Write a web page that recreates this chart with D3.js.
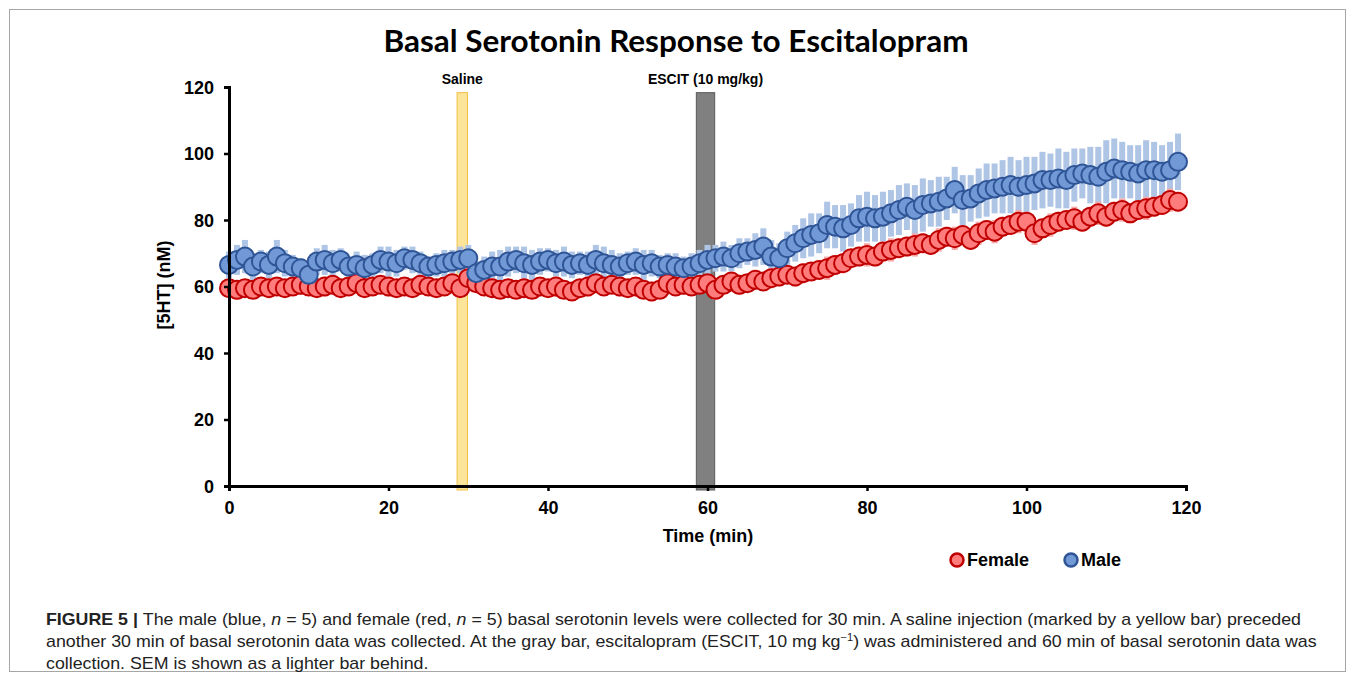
<!DOCTYPE html>
<html>
<head>
    <meta charset="utf-8">
    <title>Basal Serotonin Response to Escitalopram</title>
    <script src="https://d3js.org/d3.v7.min.js"></script>
    <style>
        body { margin: 0; background: #fff; }
        svg { display: block; }
        .tick text { font-family: "Liberation Sans", Arial, sans-serif; font-weight: bold; font-size: 18px; fill: #000; }
        .caption { font-family: "Liberation Sans Narrow", "Liberation Sans", Arial, sans-serif; font-size: 16px; fill: #222; }
    </style>
</head>
<body>
    <svg></svg>
    <script>
        // Time points (min), one sample per minute
        const minutes = d3.range(0, 120);

        // Mean [5HT] (nM)
        const female = [
            59.5, 59, 59.5, 59, 60, 59.5, 60, 59.5, 60, 60.5,
            60, 59.5, 60, 60.5, 59.5, 60, 61, 59.5, 60, 60.5,
            60, 59.5, 60, 59.5, 60.5, 60, 59.5, 60, 61, 59.5,
            62.5, 61, 60, 59.5, 59, 59.5, 59, 59.5, 59, 60,
            59.5, 60, 59, 58.5, 59.5, 60, 61, 60, 60.5, 60,
            59.5, 60, 59, 58.5, 59, 61, 60, 60.5, 60, 60.5,
            61, 59, 60.5, 61.5, 60.5, 61, 62, 61.5, 62.5, 63,
            63.5, 63, 64, 64.5, 65, 65.5, 66.5, 67, 68.5, 69,
            69.5, 69, 70.5, 71, 71.5, 72, 72.5, 73, 72.5, 74,
            75, 74.5, 75.5, 74, 76, 77, 76.5, 78, 78.5, 79.5,
            79.5, 76, 77.5, 78.5, 79.5, 80, 80.5, 79.5, 81, 82,
            81, 82.5, 83, 82, 83, 83.5, 84, 84.5, 86, 85.5
        ];
        const male = [
            66.5, 68, 69, 66, 67.5, 66.5, 69, 67, 66, 65.5,
            63.5, 67.5, 68, 67, 68, 66, 66.5, 65.5, 66.5, 68,
            67.5, 67, 68.5, 68, 67, 66, 66.5, 67, 67.5, 68,
            68.5, 64, 65, 66, 66, 67.5, 68, 67, 66.5, 67.5,
            68, 67, 67.5, 66.5, 67, 66.5, 68, 67, 66.5, 66,
            67, 67.5, 66.5, 67, 66, 66.5, 66, 65.5, 66, 67,
            68, 68.5, 69, 68.5, 70, 70.5, 71, 72, 69, 68.5,
            71.5, 73, 74.5, 75.5, 76, 78.5, 78, 77.5, 78.5, 80.5,
            81, 80.5, 81, 82, 83, 84, 83, 84.5, 85, 85.5,
            86.5, 89, 86, 86.5, 88, 89, 89.5, 90, 90.5, 90,
            90.5, 91, 92, 92, 92.5, 92, 93.5, 94, 93.5, 93,
            94.5, 95.5, 95, 94.5, 94, 95, 95, 94.5, 95, 97.5
        ];

        // SEM (nM)
        const femaleSem = [
            2.5, 3, 2.5, 2, 2.5, 3, 2.5, 2, 2.5, 3,
            2.5, 2, 3, 2.5, 2, 2.5, 3, 2.5, 2, 2.5,
            3, 2.5, 2, 2.5, 3, 2.5, 2, 2.5, 3, 2.5,
            3, 2.5, 2.5, 3, 2.5, 2, 2.5, 3, 2.5, 2,
            2.5, 3, 2.5, 2, 2.5, 3, 2.5, 2, 2.5, 3,
            2.5, 2, 2.5, 3, 2.5, 2, 2.5, 3, 2.5, 2,
            2.5, 3, 2.5, 2.5, 3, 2.5, 3, 2.5, 3, 3,
            2.5, 3, 3, 2.5, 3, 3.5, 3, 3, 2.5, 3,
            3.5, 3, 3, 3.5, 3, 3, 3.5, 3, 3, 3.5,
            3, 3.5, 3, 3, 3.5, 3, 3.5, 3, 3, 3.5,
            3, 3.5, 3, 3.5, 3, 3, 3.5, 3, 3, 3.5,
            3, 3, 3.5, 3, 3, 3.5, 3, 3, 3.5, 3
        ];
        const maleSem = [
            4, 4.5, 5, 4, 3.5, 4, 5, 4, 3.5, 3,
            3.5, 4, 4.5, 4, 3.5, 3, 4, 4, 3.5, 4,
            4.5, 4, 3.5, 4, 3.5, 3, 3.5, 4, 3.5, 4,
            4, 3.5, 4, 4.5, 5, 4.5, 4, 5, 4.5, 4,
            3.5, 4, 4.5, 4, 3.5, 4, 4.5, 5, 4.5, 4,
            3.5, 4, 4.5, 4, 3.5, 3.5, 4, 3.5, 4, 4,
            4.5, 4, 4.5, 4, 4.5, 4, 5, 5.5, 5, 4.5,
            5, 5.5, 6, 6.5, 6, 7, 6.5, 7, 6.5, 7,
            7.5, 7, 7.5, 7, 7.5, 7, 7.5, 8, 7, 7.5,
            6.5, 7, 7.5, 7, 7.5, 8, 7.5, 8, 8.5, 8,
            8.5, 8, 8.5, 8, 9, 8.5, 8, 7.5, 8.5, 9,
            9.5, 9, 8.5, 8, 8.5, 9, 8.5, 8, 8.5, 8.5
        ];

        // Injection markers (min)
        const injections = [
            { label: "Saline", start: 28.6, end: 29.9, fill: "#FDE49B", stroke: "#F2C043" },
            { label: "ESCIT (10 mg/kg)", start: 58.6, end: 60.9, fill: "#808080", stroke: "#595959" }
        ];

        const xTicks = [0, 20, 40, 60, 80, 100, 120];
        const yTicks = [0, 20, 40, 60, 80, 100, 120];

        const seriesList = [
            { name: "Female", values: female, sem: femaleSem, fill: "#FF7C7C", stroke: "#C00000", semColor: "#F7A8A8" },
            { name: "Male", values: male, sem: maleSem, fill: "#7199D6", stroke: "#2F5597", semColor: "#AFC5E6" }
        ];

        const width = 1355, height = 681;

        const svg = d3.select("svg")
            .attr("width", width)
            .attr("height", height);

        // frame
        svg.append("rect")
            .attr("x", 9.5).attr("y", 9.5)
            .attr("width", 1336).attr("height", 662)
            .attr("fill", "none")
            .attr("stroke", "#a6a6a6")
            .attr("stroke-width", 1);

        const x = d3.scaleLinear().domain([0, 120]).range([229, 1186]);
        const y = d3.scaleLinear().domain([0, 120]).range([486, 87]);

        // title
        svg.append("text")
            .attr("x", 676).attr("y", 52)
            .attr("text-anchor", "middle")
            .attr("textLength", 585)
            .attr("lengthAdjust", "spacingAndGlyphs")
            .style("font-family", "Lato, 'Open Sans', sans-serif")
            .style("font-weight", "bold")
            .style("font-size", "31px")
            .text("Basal Serotonin Response to Escitalopram");

        // injection bars
        const inj = svg.append("g");
        inj.selectAll("rect")
            .data(injections)
            .join("rect")
            .attr("x", d => x(d.start))
            .attr("width", d => x(d.end) - x(d.start))
            .attr("y", y(118.3))
            .attr("height", y(-1.2) - y(118.3))
            .attr("fill", d => d.fill)
            .attr("stroke", d => d.stroke)
            .attr("stroke-width", 1);
        inj.selectAll("text")
            .data(injections)
            .join("text")
            .attr("x", d => x((d.start + d.end) / 2))
            .attr("y", 84)
            .attr("text-anchor", "middle")
            .style("font-family", "'Liberation Sans Narrow', 'Liberation Sans', Arial, sans-serif")
            .style("font-weight", "bold")
            .style("font-size", "14px")
            .text(d => d.label);

        // SEM bars
        const semW = 6;
        seriesList.slice().reverse().forEach(s => {
            svg.append("g")
                .selectAll("rect")
                .data(minutes)
                .join("rect")
                .attr("x", m => x(m) - semW / 2)
                .attr("width", semW)
                .attr("y", m => y(s.values[m] + s.sem[m]))
                .attr("height", m => y(s.values[m] - s.sem[m]) - y(s.values[m] + s.sem[m]))
                .attr("fill", s.semColor);
        });

        // markers
        seriesList.forEach(s => {
            svg.append("g")
                .selectAll("circle")
                .data(minutes)
                .join("circle")
                .attr("cx", m => x(m))
                .attr("cy", m => y(s.values[m]))
                .attr("r", 9)
                .attr("fill", s.fill)
                .attr("stroke", s.stroke)
                .attr("stroke-width", 2);
        });

        // axes
        const xAxis = svg.append("g")
            .attr("transform", `translate(0,${y(0)})`)
            .call(d3.axisBottom(x).tickValues(xTicks).tickSize(5).tickPadding(8).tickFormat(d3.format("d")));
        const yAxis = svg.append("g")
            .attr("transform", `translate(${x(0)},0)`)
            .call(d3.axisLeft(y).tickValues(yTicks).tickSize(5).tickPadding(10).tickFormat(d3.format("d")));
        [xAxis, yAxis].forEach(a => {
            a.select(".domain").attr("stroke", "#000").attr("stroke-width", 3);
            a.selectAll(".tick line").attr("stroke", "#000").attr("stroke-width", 2.5);
        });
        xAxis.selectAll(".tick text").attr("dy", "0.85em");
        yAxis.selectAll(".tick text").attr("dy", "0.35em");

        // axis titles
        svg.append("text")
            .attr("x", 708).attr("y", 542)
            .attr("text-anchor", "middle")
            .style("font-family", "'Liberation Sans', Arial, sans-serif")
            .style("font-weight", "bold")
            .style("font-size", "18px")
            .text("Time (min)");
        svg.append("text")
            .attr("transform", "translate(170,285) rotate(-90)")
            .attr("text-anchor", "middle")
            .style("font-family", "'Liberation Sans', Arial, sans-serif")
            .style("font-weight", "bold")
            .style("font-size", "18px")
            .text("[5HT] (nM)");

        // legend
        const legendX = [957, 1071];
        const legend = svg.append("g")
            .selectAll("g")
            .data(seriesList)
            .join("g")
            .attr("transform", (d, i) => `translate(${legendX[i]},560)`);
        legend.append("circle")
            .attr("r", 6.5)
            .attr("fill", d => d.fill)
            .attr("stroke", d => d.stroke)
            .attr("stroke-width", 2.5);
        legend.append("text")
            .attr("x", 10).attr("dy", "0.36em")
            .style("font-family", "'Liberation Sans', Arial, sans-serif")
            .style("font-weight", "bold")
            .style("font-size", "18px")
            .text(d => d.name);

        // caption
        const cap = svg.append("g").attr("class", "caption");
        const line1 = cap.append("text").attr("x", 46).attr("y", 625);
        line1.append("tspan").style("font-weight", "bold").text("FIGURE 5 | ");
        line1.append("tspan").text("The male (blue, ");
        line1.append("tspan").style("font-style", "italic").text("n");
        line1.append("tspan").text(" = 5) and female (red, ");
        line1.append("tspan").style("font-style", "italic").text("n");
        line1.append("tspan").text(" = 5) basal serotonin levels were collected for 30 min. A saline injection (marked by a yellow bar) preceded");

        const line2 = cap.append("text").attr("x", 46).attr("y", 647);
        line2.append("tspan").text("another 30 min of basal serotonin data was collected. At the gray bar, escitalopram (ESCIT, 10 mg kg");
        line2.append("tspan").attr("dy", -6).style("font-size", "10px").text("\u22121");
        line2.append("tspan").attr("dy", 6).text(") was administered and 60 min of basal serotonin data was");

        cap.append("text").attr("x", 46).attr("y", 669)
            .text("collection. SEM is shown as a lighter bar behind.");

        // squeeze caption to the condensed width of the original
        const w1 = line1.node().getComputedTextLength();
        const k = (1302 - 46) / w1;
        cap.selectAll("text")
            .attr("transform", `translate(${46 * (1 - k)},0) scale(${k},1)`);
    </script>
</body>
</html>
